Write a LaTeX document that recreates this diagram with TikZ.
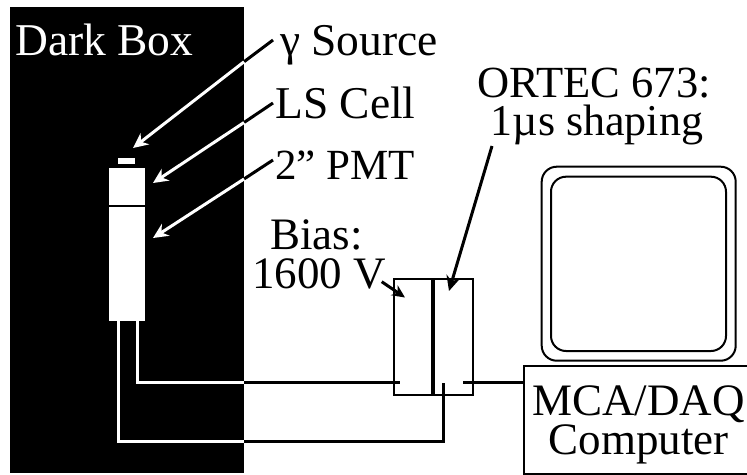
\documentclass[tikz,border=0pt]{standalone}
\usepackage{fontspec}
\setmainfont{Liberation Serif}
\usetikzlibrary{arrows.meta}
\tikzset{
 lab/.style={inner sep=0pt,anchor=base west,font=\fontsize{45.5}{45.5}\selectfont},
 labn/.style={inner sep=0pt,anchor=base west,font=\fontsize{43}{43}\selectfont},
 labc/.style={inner sep=0pt,anchor=base,font=\fontsize{45}{45}\selectfont},
 labo/.style={inner sep=0pt,anchor=base,font=\fontsize{44.5}{44.5}\selectfont},
 wire/.style={line width=3pt,line cap=butt},
 thin box/.style={draw=black,line width=2pt,fill=white},
 head/.style={-{Stealth[length=15pt,width=14pt]}},
 shead/.style={-{Stealth[length=13pt,width=12pt]}}
}
\begin{document}
\begin{tikzpicture}[x=1pt,y=-1pt]
\useasboundingbox (0,0) rectangle (747,474);
\fill[white] (0,0) rectangle (747,474);
\node[fill=black,inner sep=0pt,minimum width=234pt,minimum height=466pt,anchor=north west] (dark) at (10,7) {};
\node[lab,text=white] (darklabel) at (15,55) {Dark Box};
% detector
\node[fill=white,inner sep=0pt,minimum width=17pt,minimum height=6pt] (src) at (126.5,161) {};
\node[fill=white,inner sep=0pt,minimum width=36.5pt,minimum height=37pt] (cell) at (127,186.5) {};
\node[fill=white,inner sep=0pt,minimum width=36.5pt,minimum height=114pt] (pmt) at (127,264) {};
% labels
\node[lab] (g) at (280,55) {γ Source};
\node[lab] (ls) at (275,118) {LS Cell};
\node[labn] (pm) at (275,179) {2” PMT};
\node[labc] (bias) at (316.5,249) {Bias:};
\node[labc] (hv) at (319,288) {1600 V};
\node[labo] (ortec) at (594,97) {ORTEC 673:};
\node[labo,font=\fontsize{44}{44}\selectfont] (shape) at (597,135) {1µs shaping};
% modules
\node[thin box,minimum width=79.5pt,minimum height=116pt,inner sep=0pt,anchor=north west] (mod) at (392.5,277.5) {};
\coordinate (divt) at (433,278);
\coordinate (divb) at (433,393.5);
\draw[line width=3.6pt] (divt) -- (divb);
% computer
\node[draw=black,line width=2pt,inner sep=0pt,minimum width=226pt,minimum height=108pt,anchor=north west] (mca) at (522.5,364.5) {};
\node[labc] (m1) at (638.5,415) {MCA/DAQ};
\node[labc] (m2) at (638.5,454) {Computer};
\draw[line width=2pt,rounded corners=15pt] (541.7,166.7) rectangle (735.7,360.7);
\draw[line width=2pt,rounded corners=15pt] (551,176.7) rectangle (726,351);
% wires
\coordinate (w1a) at (137,321);
\coordinate (w1b) at (137,382.7);
\coordinate (w1c) at (244,382.7);
\coordinate (w1d) at (400,382.7);
\coordinate (w2a) at (118,321);
\coordinate (w2b) at (118,441.7);
\coordinate (w2c) at (244,441.7);
\coordinate (w2d) at (443.5,441.7);
\coordinate (w2e) at (443.5,383);
\coordinate (w3a) at (463,382.7);
\coordinate (w3b) at (mca.west|-w3a);
\draw[white,wire] (w1a) -- (w1b) -- (w1c);
\draw[black,wire] (w1c) -- (w1d);
\draw[white,wire] (w2a) -- (w2b) -- (w2c);
\draw[black,wire] (w2c) -- (w2d) -- (w2e);
\draw[black,wire] (w3a) -- (w3b);
% arrows
\coordinate (a1s) at (273,40); \coordinate (a1m) at (244,61.8); \coordinate (a1e) at (133,148);
\coordinate (a2s) at (273,103); \coordinate (a2m) at (244,122.5); \coordinate (a2e) at (153,183);
\coordinate (a3s) at (273,160); \coordinate (a3m) at (244,179); \coordinate (a3e) at (153,238);
\draw[black,wire] (a1s) -- (a1m);
\draw[white,wire,head] (a1m) -- (a1e);
\draw[black,wire] (a2s) -- (a2m);
\draw[white,wire,head] (a2m) -- (a2e);
\draw[black,wire] (a3s) -- (a3m);
\draw[white,wire,head] (a3m) -- (a3e);
\coordinate (a4s) at (492,146); \coordinate (a4e) at (449,291);
\draw[black,wire,head] (a4s) -- (a4e);
\coordinate (a5s) at (381.7,281.7); \coordinate (a5e) at (405,297.5);
\draw[black,wire,shead] (a5s) -- (a5e);
\end{tikzpicture}
\end{document}
